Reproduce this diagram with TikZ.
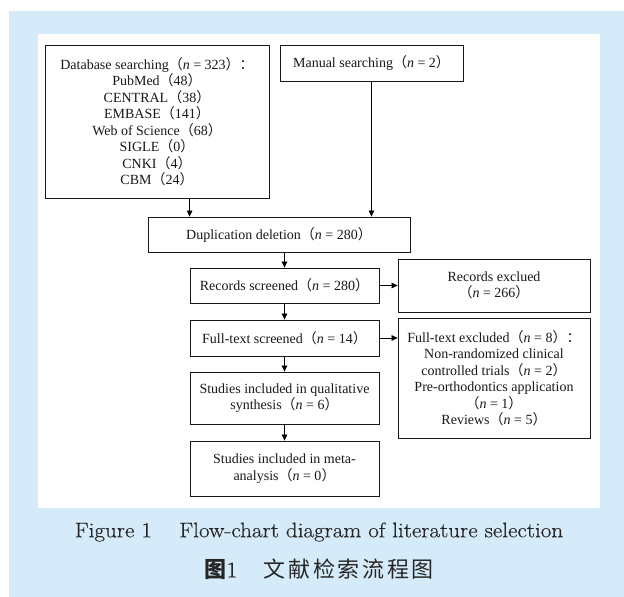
\documentclass[tikz,border=0pt]{standalone}
\usepackage{fontspec}
\newfontfamily\timesfont{Liberation Serif}
\newfontfamily\cjk{Noto Sans CJK SC}
\newfontfamily\cjkcap[LetterSpace=12]{Noto Sans CJK SC}
\newfontfamily\capfont[FakeStretch=1.1,FakeBold=0.4]{Latin Modern Roman}
\usetikzlibrary{arrows.meta, positioning}
\definecolor{panelblue}{RGB}{214,235,249}
\newcommand{\lp}{{\cjk （}}
\newcommand{\rp}{{\cjk ）}}
\newcommand{\fc}{{\cjk ：}}
\tikzset{%
	every stage/.style={
		draw=black!90,
		line width=0.8pt,
		align=center,
		inner sep=0pt,
		text=black!90,
		font=\timesfont\fontsize{14}{16.5}\selectfont
	},
	flow arrow/.style={
		-{Triangle[length=6pt,width=5.5pt]},
		line width=0.7pt
	},
	caption text/.style={
		text=black!85,
		font=\capfont\fontsize{21}{24}\selectfont
	},
}

\begin{document}
\begin{tikzpicture}[x=1pt, y=-1pt]
			% Draw the background panels
			\useasboundingbox (0,0) rectangle (624,597);
			\fill[panelblue] (9,11) rectangle (624,597);
			\fill[white] (38,34) rectangle (600,508);
			
			% Draw the search boxes
			\node[every stage, minimum width=224pt, minimum height=153pt] (db) at (157,121.5)
				{Database searching\lp\textit{n} = 323\rp\fc\\PubMed\lp48\rp\\CENTRAL\lp38\rp\\EMBASE\lp141\rp\\Web of Science\lp68\rp\\SIGLE\lp0\rp\\CNKI\lp4\rp\\CBM\lp24\rp};
			\node[every stage, minimum width=183pt, minimum height=36pt] (manual) at (371.5,63)
				{Manual searching\lp\textit{n} = 2\rp};
			
			% Draw the main column
			\node[every stage, minimum width=262pt, minimum height=35pt] (dup) at (279,234.5)
				{Duplication deletion\lp\textit{n} = 280\rp};
			\node[every stage, minimum width=189pt, minimum height=35pt] (rec) at (284.5,285.5)
				{Records screened\lp\textit{n} = 280\rp};
			\node[every stage, minimum width=189pt, minimum height=36pt] (full) at (284.5,338)
				{Full-text screened\lp\textit{n} = 14\rp};
			\node[every stage, minimum width=189pt, minimum height=52pt] (qual) at (284.5,398)
				{Studies included in qualitative\\synthesis\lp\textit{n} = 6\rp};
			\node[every stage, minimum width=189pt, minimum height=55pt] (meta) at (284.5,468.5)
				{Studies included in meta-\\analysis\lp\textit{n} = 0\rp};
			
			% Draw the exclusion boxes
			\node[every stage, minimum width=192pt, minimum height=53pt] (recex) at (494,285.5)
				{Records exclued\\\lp\textit{n} = 266\rp};
			\node[every stage, minimum width=192pt, minimum height=120pt] (fullex) at (494,378)
				{Full-text excluded\lp\textit{n} = 8\rp\fc\\Non-randomized clinical\\controlled trials\lp\textit{n} = 2\rp\\Pre-orthodontics application\\\lp\textit{n} = 1\rp\\Reviews\lp\textit{n} = 5\rp};
			
			% Draw the arrows
			\draw[flow arrow] (db.south -| rec.west) -- (rec.west |- dup.north);
			\draw[flow arrow] (manual.south) -- (manual.south |- dup.north);
			\draw[flow arrow] (rec.north |- dup.south) -- (rec.north);
			\draw[flow arrow] (rec) -- (full);
			\draw[flow arrow] (full) -- (qual);
			\draw[flow arrow] (qual) -- (meta);
			\draw[flow arrow] (rec.east) -- (recex.west);
			\draw[flow arrow] (full.east) -- (full.east -| fullex.west);
			
			% Draw the captions
			\node[caption text] (cap) at (319,532) {Figure 1\hspace{1.3em}Flow-chart diagram of literature selection};
			\node[caption text, font=\fontsize{22}{26}\selectfont] (capzh) at (319,569) {{\cjk\bfseries 图}{\capfont 1}\hspace{1.2em}{\cjkcap 文献检索流程图}};

		\end{tikzpicture}
\end{document}
